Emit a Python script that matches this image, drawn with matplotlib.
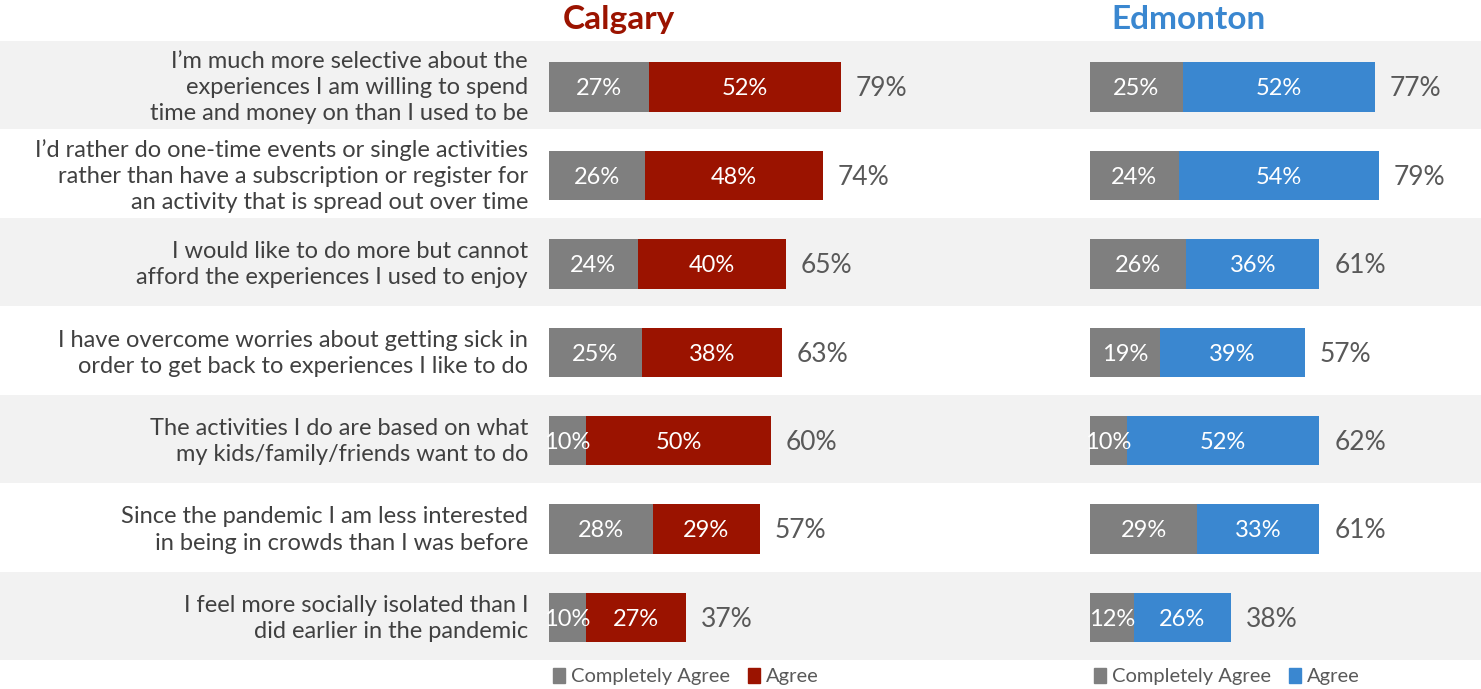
import numpy as np
import matplotlib.pyplot as plt
from matplotlib.patches import Patch

plt.rcParams['font.family'] = ['Lato', 'DejaVu Sans']

statements = [
    "I\u2019m much more selective about the\nexperiences I am willing to spend\ntime and money on than I used to be",
    "I\u2019d rather do one-time events or single activities\nrather than have a subscription or register for\nan activity that is spread out over time",
    "I would like to do more but cannot\nafford the experiences I used to enjoy",
    "I have overcome worries about getting sick in\norder to get back to experiences I like to do",
    "The activities I do are based on what\nmy kids/family/friends want to do",
    "Since the pandemic I am less interested\nin being in crowds than I was before",
    "I feel more socially isolated than I\ndid earlier in the pandemic",
]

cgy_complete = [27, 26, 24, 25, 10, 28, 10]
cgy_agree = [52, 48, 40, 38, 50, 29, 27]
cgy_total = [79, 74, 65, 63, 60, 57, 37]

edm_complete = [25, 24, 26, 19, 10, 29, 12]
edm_agree = [52, 54, 36, 39, 52, 33, 26]
edm_total = [77, 79, 61, 57, 62, 61, 38]

GREY = '#7f7f7f'
RED = '#9b1300'
BLUE = '#3a87d0'
BAND = '#f2f2f2'

W, H = 1481, 689
fig = plt.figure(figsize=(W / 100, H / 100), dpi=100)

n = len(statements)
top_px, bot_px = 41, 660
ax_bottom = (H - bot_px) / H
ax_height = (bot_px - top_px) / H

# background stripes + statement text
bg = fig.add_axes([0, ax_bottom, 1, ax_height], zorder=0)
bg.set_xlim(0, 1)
bg.set_ylim(n - 0.5, -0.5)
bg.axis('off')
for i in range(n):
    if i % 2 == 0:
        bg.axhspan(i - 0.5, i + 0.5, color=BAND, lw=0)
    bg.text(528 / W, i + 0.03, statements[i], ha='right', va='center',
            fontsize=17, color='#404040', linespacing=1.3)

px_per_pct = 3.7


def city_panel(left_px, complete, agree, total, color, title, title_x):
    ax = fig.add_axes([left_px / W, ax_bottom, 100 * px_per_pct / W, ax_height], zorder=1)
    ax.patch.set_alpha(0)
    y = np.arange(n) + 0.02
    ax.barh(y, complete, height=0.56, color=GREY)
    ax.barh(y, agree, left=complete, height=0.56, color=color)
    for i in range(n):
        ty = y[i] + 0.02
        ax.text(complete[i] / 2, ty, f'{complete[i]}%', ha='center', va='center',
                color='white', fontsize=17)
        ax.text(complete[i] + agree[i] / 2, ty, f'{agree[i]}%', ha='center', va='center',
                color='white', fontsize=17)
        ax.text(complete[i] + agree[i] + 4, ty, f'{total[i]}%', ha='left', va='center',
                color='#595959', fontsize=19)
    ax.set_xlim(0, 100)
    ax.set_ylim(n - 0.5, -0.5)
    ax.axis('off')
    ax.text(title_x, 1.012, title, transform=ax.transAxes, ha='center', va='bottom',
            fontsize=24, fontweight='bold', color=color)
    handles = [Patch(color=GREY, label='Completely Agree'), Patch(color=color, label='Agree')]
    ax.legend(handles=handles, loc='upper left', bbox_to_anchor=(-0.012, 0.0),
              ncol=2, frameon=False, handlelength=0.6, handleheight=0.75,
              handletextpad=0.3, columnspacing=0.9, labelcolor='#595959',
              borderaxespad=0.0, prop={'size': 14.5})
    return ax


city_panel(549, cgy_complete, cgy_agree, cgy_total, RED, 'Calgary', 0.19)
city_panel(1090, edm_complete, edm_agree, edm_total, BLUE, 'Edmonton', 0.265)

fig.savefig('out.png', dpi=100)
